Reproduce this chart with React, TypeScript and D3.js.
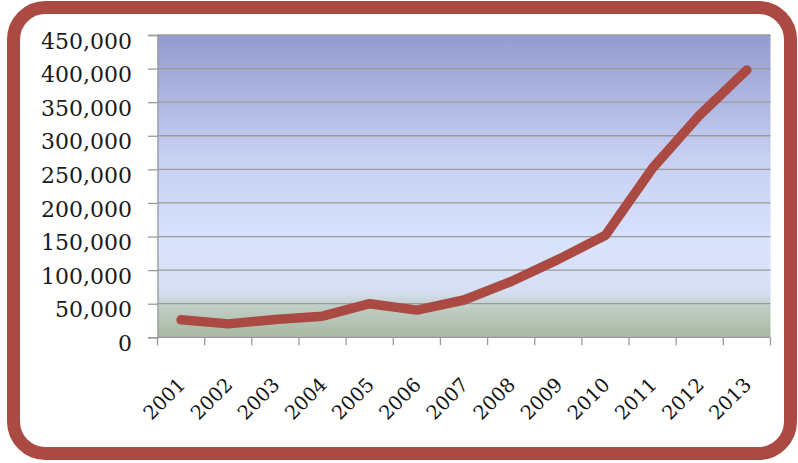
import React, { useEffect, useRef } from 'react';
import * as d3 from 'd3';

const years = ['2001', '2002', '2003', '2004', '2005', '2006', '2007', '2008', '2009', '2010', '2011', '2012', '2013'];
const values = [26000, 20000, 26500, 31500, 50000, 40500, 55500, 83000, 116000, 152000, 252000, 331000, 398000];
const yTicks = [0, 50000, 100000, 150000, 200000, 250000, 300000, 350000, 400000, 450000];

const W = 798;
const H = 463;
const plot = { left: 157.5, right: 770.5, top: 35, bottom: 337.3 };
const red = '#aa4a43';
const font = '"DejaVu Serif", serif';

const App = () => {
  const svgRef = useRef<SVGSVGElement>(null);

  useEffect(() => {
    const svg = d3.select(svgRef.current);
    svg.selectAll('*').remove();

    // Gradient for the plot area
    const defs = svg.append('defs');
    const grad = defs.append('linearGradient')
      .attr('id', 'plotBg')
      .attr('x1', 0).attr('y1', 0).attr('x2', 0).attr('y2', 1);
    const stops: [number, string][] = [
      [0, '#949bcf'],
      [0.4, '#c6cff1'],
      [0.7, '#dae3fc'],
      [0.85, '#d5def2'],
      [0.9, '#c0cec6'],
      [1, '#a7b8a2'],
    ];
    stops.forEach(([o, c]) => grad.append('stop').attr('offset', o).attr('stop-color', c));

    // Outer rounded frame
    svg.append('rect')
      .attr('x', 13.5).attr('y', 7.5)
      .attr('width', 777).attr('height', 446)
      .attr('rx', 32)
      .attr('fill', '#ffffff')
      .attr('stroke', red)
      .attr('stroke-width', 13);

    const x = d3.scaleBand<string>()
      .domain(years)
      .range([plot.left, plot.right])
      .paddingInner(0)
      .paddingOuter(0);

    const y = d3.scaleLinear()
      .domain([0, 450000])
      .range([plot.bottom, plot.top]);

    svg.append('rect')
      .attr('x', plot.left).attr('y', plot.top)
      .attr('width', plot.right - plot.left)
      .attr('height', plot.bottom - plot.top)
      .attr('fill', 'url(#plotBg)');

    // Grid lines
    svg.append('g')
      .selectAll('line')
      .data(yTicks.filter(d => d > 0))
      .enter()
      .append('line')
      .attr('x1', plot.left).attr('x2', plot.right)
      .attr('y1', d => y(d)).attr('y2', d => y(d))
      .attr('stroke', '#9a9a9a')
      .attr('stroke-width', 1.3);

    // Y axis
    const yAxis = svg.append('g')
      .attr('transform', `translate(${plot.left},0)`)
      .call(d3.axisLeft(y).tickValues(yTicks).tickSize(9.5).tickPadding(16).tickFormat(d3.format(',')));
    yAxis.select('.domain').attr('stroke', '#9a9a9a').attr('stroke-width', 1.3);
    yAxis.selectAll('.tick line').attr('stroke', '#9a9a9a').attr('stroke-width', 1.3);
    yAxis.selectAll('.tick text')
      .attr('dy', '0.6em')
      .style('font-family', font)
      .style('font-size', '22px')
      .style('fill', '#1a1a1a');

    // X axis: ticks on band edges
    const edges = years.map(d => x(d) as number).concat([plot.right]);
    const xg = svg.append('g');
    xg.append('line')
      .attr('x1', plot.left).attr('x2', plot.right)
      .attr('y1', plot.bottom).attr('y2', plot.bottom)
      .attr('stroke', '#9a9a9a').attr('stroke-width', 1.3);
    xg.selectAll('.xt')
      .data(edges)
      .enter()
      .append('line')
      .attr('x1', d => d).attr('x2', d => d)
      .attr('y1', plot.bottom).attr('y2', plot.bottom + 8)
      .attr('stroke', '#9a9a9a').attr('stroke-width', 1.3);
    xg.selectAll('text')
      .data(years)
      .enter()
      .append('text')
      .attr('transform', d => `translate(${(x(d) as number) + x.bandwidth() / 2 + 5.5},386) rotate(-45)`)
      .attr('text-anchor', 'end')
      .style('font-family', font)
      .style('font-size', '19.5px')
      .style('fill', '#111')
      .text(d => d);

    // Line
    const line = d3.line<number>()
      .x((_, i) => (x(years[i]) as number) + x.bandwidth() / 2)
      .y(d => y(d));

    svg.append('path')
      .datum(values)
      .attr('d', line)
      .attr('fill', 'none')
      .attr('stroke', red)
      .attr('stroke-width', 9.5)
      .attr('stroke-linecap', 'round')
      .attr('stroke-linejoin', 'round');
  }, []);

  return (
    <svg
      ref={svgRef}
      width={W}
      height={H}
      style={{ position: 'absolute', left: 0, top: 0, background: '#ffffff' }}
    />
  );
};

export default App;
